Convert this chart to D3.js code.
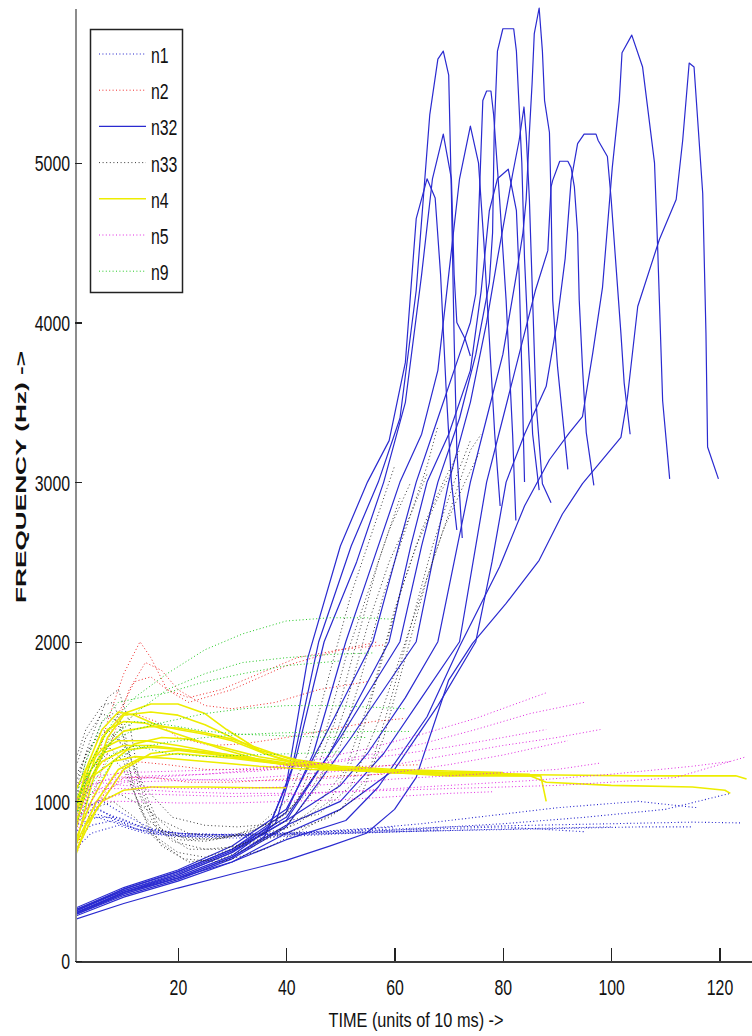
<!DOCTYPE html>
<html>
<head>
<meta charset="utf-8">
<script src="https://cdn.jsdelivr.net/npm/d3@7"></script>
<style>
  body { margin: 0; background: #fff; }
  svg { display: block; font-family: "Liberation Sans", Arial, sans-serif; }
</style>
</head>
<body>
<div id="chart"></div>
<script>
// axis ticks and legend entries
const xTicks = [20, 40, 60, 80, 100, 120];
const yTicks = [0, 1000, 2000, 3000, 4000, 5000];
const legendNames = ["n1", "n2", "n32", "n33", "n4", "n5", "n9"];

// each series is a list of [time, frequency] points
const n1Lines = [
    [[1,900],[5,950],[10,880],[15,820],[20,800],[30,790],[40,800],[50,810],[60,820],[70,830],[80,840],[95,810]],
    [[1,1000],[4,980],[8,900],[12,830],[18,790],[25,780],[35,790],[45,800],[55,810],[65,830],[80,860],[95,900],[110,950],[122,1050]],
    [[1,850],[5,900],[10,850],[15,800],[22,780],[30,780],[40,790],[50,800],[60,810],[75,820],[90,830],[105,840],[115,840]],
    [[1,750],[4,850],[8,880],[13,820],[20,790],[30,790],[40,800],[55,820],[70,840],[85,850],[100,860],[115,870],[124,865]],
    [[1,950],[6,1000],[10,920],[15,830],[20,800],[30,790],[40,790],[50,800],[60,810],[68,820]],
    [[1,700],[4,800],[9,850],[14,800],[20,780],[30,770],[40,780],[52,800],[62,810],[72,820],[85,830],[100,840]],
    [[1,880],[5,920],[10,870],[16,810],[25,790],[35,800],[45,810],[55,830],[65,860],[75,900],[90,960],[105,1000],[116,960]],
    [[1,800],[4,900],[9,900],[14,830],[22,790],[32,790],[42,800],[52,820],[60,840]]
];

const n2Lines = [
    [[1,800],[4,1100],[7,1500],[10,1800],[13,2000],[15,1900],[18,1700],[22,1650],[28,1700],[35,1800],[42,1900],[50,1950],[58,1980]],
    [[1,750],[4,1000],[8,1400],[11,1700],[14,1870],[17,1820],[20,1700],[25,1600],[30,1580],[38,1620],[46,1700],[55,1750]],
    [[1,900],[4,1150],[8,1400],[12,1550],[16,1500],[20,1400],[26,1350],[32,1360],[40,1400],[48,1450],[56,1500],[62,1520]],
    [[1,650],[4,900],[8,1150],[12,1250],[18,1230],[25,1200],[35,1200],[45,1210],[55,1220],[65,1230]],
    [[1,850],[5,1200],[9,1550],[12,1750],[15,1780],[18,1700],[22,1620],[30,1700],[40,1850],[50,1950],[57,2000]],
    [[1,700],[5,1000],[10,1150],[15,1150],[22,1120],[30,1120],[40,1140],[50,1160],[58,1170]]
];

const n32Lines = [
    [[1,290],[10,420],[20,520],[30,650],[36,780],[40,1100],[44,1900],[50,2600],[55,3000],[59,3260],[62,3750],[64,4650],[66,4900],[67.5,4780],[68.5,4300],[69.5,3600],[70.5,3000],[71.5,2700]],
    [[1,320],[10,440],[20,540],[30,680],[37,850],[41,1200],[46,2000],[52,2600],[57,3000],[61,3400],[64,4200],[66.5,5300],[68,5650],[69,5700],[70,5550],[70.5,4800],[71,3900],[71.5,3200],[72.5,2650]],
    [[1,300],[10,430],[20,530],[30,660],[38,860],[42,1300],[47,2000],[53,2500],[58,3000],[62,3500],[65,4300],[67,4900],[69,5180],[70.5,4900],[71,4300],[71.5,4000],[73,3900],[74,3790]],
    [[1,310],[10,450],[20,560],[30,700],[40,930],[45,1300],[51,2000],[56,2500],[61,3000],[65,3300],[68,3700],[70,4300],[72,4900],[74,5230],[75.5,5000],[76.5,4500],[77.5,3900],[78.5,3300],[79.5,2850]],
    [[1,330],[10,460],[20,570],[30,720],[40,950],[47,1400],[56,2000],[60,2500],[64,3000],[68,3400],[72,3800],[74,4000],[75,4180],[75.7,4830],[76.3,5390],[77,5450],[77.8,5450],[78.3,5300],[79.4,4770],[80.6,4140],[81.8,3300],[82.4,2760]],
    [[1,300],[10,430],[20,540],[30,680],[40,880],[48,1300],[59,2000],[63,2600],[66,3000],[70,3300],[74,3700],[76,4200],[77.5,4700],[79,4900],[81,4960],[82.5,4700],[83,4300],[83.5,3700],[84,3000]],
    [[1,320],[10,450],[20,560],[30,700],[40,900],[50,1400],[61,2000],[65,2600],[68,3000],[72,3400],[75,3800],[77.5,4250],[78.1,4560],[78.4,5190],[79,5700],[80,5840],[82,5840],[82.5,5700],[83.5,5000],[84,4400],[84.8,3800],[85.5,3300],[86.7,2950]],
    [[1,290],[10,410],[20,510],[30,640],[40,840],[52,1400],[64,2000],[67,2500],[70,3000],[74,3500],[77,4000],[79,4400],[81.8,4930],[83,5140],[83.9,5350],[84.3,5180],[84.9,4770],[85.5,4140],[86.1,3510],[87.3,2990],[88.9,2870]],
    [[1,310],[10,440],[20,550],[30,690],[40,880],[50,1100],[55,1300],[62,1650],[68,2000],[71,2500],[74,3000],[77,3400],[80,3800],[82.5,4300],[83.7,4560],[84.3,4770],[84.9,5190],[85.4,5500],[85.8,5810],[86.7,5970],[87.3,5700],[87.7,5390],[88.6,5190],[88.9,4770],[89.2,4140],[90.1,3720],[92,3080]],
    [[1,300],[10,420],[20,520],[30,650],[40,850],[50,1000],[58,1300],[65,1650],[72,2000],[75,2600],[77,3000],[80,3400],[83,3800],[86,4200],[88.3,4450],[88.9,4850],[89.2,4890],[90.5,5010],[92,5010],[92.6,4970],[93.2,4850],[93.8,4560],[94.1,4140],[94.7,3720],[95.4,3310],[96.8,2980]],
    [[1,280],[10,400],[20,500],[30,620],[40,800],[50,950],[60,1200],[68,1600],[75,2000],[78,2500],[80.6,3000],[84,3300],[88,3600],[90,4000],[91.5,4400],[92.6,4890],[93.8,5120],[95,5180],[97.2,5180],[97.6,5140],[99.3,5040],[100,4770],[100.9,4350],[101.8,3930],[102.4,3620],[103.5,3300]],
    [[1,300],[10,430],[20,520],[30,620],[40,760],[51,880],[57,1090],[66,1530],[72,1970],[79.4,2470],[84,2850],[88.6,3140],[92.3,3310],[94.7,3410],[96.6,3810],[98.4,4220],[99.6,4720],[100.2,4970],[101.5,5390],[102,5690],[103.8,5800],[105.8,5600],[108,5000],[108.6,4450],[109.5,3510],[110.8,3020]],
    [[1,260],[10,360],[20,457],[30,545],[40,630],[48,720],[54.8,800],[60,950],[64,1150],[70,1760],[74.4,1990],[80.6,2240],[86.7,2510],[91,2800],[94.7,2990],[101.8,3280],[103,3530],[104.9,4100],[108.9,4520],[112,4770],[113.2,5140],[114.4,5625],[115.3,5600],[116.9,4810],[117.5,3930],[117.8,3220],[119.8,3020]]
];

const n33Lines = [
    [[1,1100],[4,1400],[7,1650],[9,1700],[11,1500],[13,1100],[16,850],[20,760],[25,750],[30,780],[35,850],[40,1000],[44,1300],[48,1800],[52,2300],[56,2700],[60,3100]],
    [[1,1000],[3,1250],[6,1500],[8,1550],[10,1400],[12,1050],[15,800],[20,680],[25,650],[30,700],[36,800],[42,1000],[47,1400],[51,1900],[55,2300],[59,2700],[63,3000]],
    [[1,950],[4,1200],[7,1350],[10,1250],[13,950],[17,720],[22,620],[28,640],[34,720],[40,850],[46,1100],[51,1600],[55,2100],[59,2500],[63,2800],[66,3050]],
    [[1,1200],[3,1400],[6,1550],[9,1500],[12,1200],[16,900],[20,780],[26,760],[32,790],[38,880],[44,1050],[50,1350],[54,1800],[58,2300],[62,2700],[66,3100],[68,3350]],
    [[1,900],[5,1000],[9,1050],[13,980],[17,880],[22,800],[28,780],[34,790],[40,830],[45,950],[51,1200],[56,1700],[60,2200],[64,2600],[68,2900],[71,3100]],
    [[1,1050],[3,1300],[6,1450],[9,1400],[12,1100],[16,830],[22,700],[28,700],[35,760],[42,860],[48,1000],[53,1300],[57,1800],[61,2300],[65,2700],[69,3000],[72,3200]],
    [[1,1150],[4,1350],[7,1450],[10,1350],[14,1080],[19,900],[25,850],[31,840],[38,860],[46,920],[52,1100],[57,1500],[61,1900],[65,2300],[69,2700],[73,3000],[75.6,3180]],
    [[1,1000],[4,1200],[7,1300],[10,1200],[14,900],[19,750],[25,700],[32,720],[40,800],[48,900],[54,1050],[58,1400],[62,1900],[66,2400],[70,2800],[74,3200],[76,3300]],
    [[1,850],[4,950],[8,1000],[12,900],[16,760],[21,640],[28,620],[36,700],[44,840],[50,950],[55,1150],[59,1600],[63,2100],[67,2600],[71,3000],[74,3260]],
    [[1,1250],[3,1450],[6,1600],[8,1620],[10,1450],[13,1050],[17,820],[22,760],[28,770],[34,820],[40,920],[45,1150],[49,1500],[53,2000],[57,2500],[61,2900]]
];

const n4Lines = [
    [[1,800],[3,1100],[6,1400],[10,1550],[15,1610],[20,1610],[25,1550],[29,1450],[35,1320],[42,1260],[50,1220],[60,1200],[70,1190],[80,1180]],
    [[1,700],[4,1100],[7,1400],[10,1540],[15,1560],[20,1540],[25,1480],[30,1400],[36,1300],[42,1240],[50,1210],[60,1190],[75,1170]],
    [[1,900],[3,1200],[6,1450],[9,1560],[12,1540],[16,1480],[20,1450],[25,1420],[30,1380],[36,1300],[42,1230],[50,1200],[65,1180]],
    [[1,850],[4,1150],[7,1350],[10,1440],[15,1470],[20,1460],[25,1430],[30,1390],[36,1320],[42,1250],[50,1210],[60,1180],[70,1160],[87,1160],[88,1000]],
    [[1,750],[4,1000],[8,1250],[12,1360],[17,1400],[22,1390],[28,1340],[35,1280],[42,1240],[50,1200],[60,1180],[75,1170],[90,1165],[105,1160],[115,1160],[123,1160],[125,1140]],
    [[1,680],[5,950],[10,1200],[15,1300],[20,1320],[30,1280],[40,1230],[50,1200],[60,1180],[70,1170],[85,1160],[88,1120],[100,1100],[115,1090],[121,1070],[122,1050]],
    [[1,950],[3,1150],[6,1300],[10,1350],[15,1350],[20,1330],[30,1290],[40,1240],[50,1200],[60,1180]],
    [[1,1000],[4,1150],[8,1250],[12,1280],[18,1270],[25,1250],[35,1220],[45,1200],[55,1190],[65,1175],[78,1170]],
    [[1,650],[3,850],[6,1000],[10,1070],[15,1090],[25,1090],[35,1085],[40,1085]],
    [[1,900],[3,1100],[6,1250],[10,1320],[15,1340],[22,1320],[30,1280],[40,1230],[50,1200],[58,1190]],
    [[1,720],[5,1000],[9,1200],[13,1270],[20,1300],[30,1270],[40,1230],[55,1200],[70,1180],[85,1170]],
    [[1,980],[4,1250],[7,1450],[10,1500],[14,1490],[20,1420],[28,1330],[36,1250],[46,1210],[60,1190]],
    [[1,1060],[3,1200],[6,1330],[9,1380],[14,1380],[20,1350],[28,1300],[38,1240],[50,1200],[70,1180],[80,1175]]
];

const n5Lines = [
    [[1,900],[4,1050],[8,1120],[15,1150],[25,1170],[35,1200],[45,1260],[55,1330],[65,1420],[75,1520],[88,1680]],
    [[1,1000],[4,1100],[8,1150],[15,1160],[25,1170],[35,1190],[45,1230],[55,1290],[65,1360],[75,1450],[85,1550],[95,1620]],
    [[1,850],[5,1050],[10,1120],[20,1130],[30,1140],[40,1160],[50,1190],[60,1230],[70,1290],[80,1350],[90,1400],[98,1450]],
    [[1,1050],[5,1120],[10,1100],[20,1080],[30,1080],[40,1090],[50,1110],[60,1140],[70,1160],[80,1180],[90,1200],[98,1240]],
    [[1,950],[5,1080],[10,1080],[20,1060],[30,1050],[40,1050],[50,1060],[60,1070],[70,1080],[80,1090],[90,1100],[100,1120],[112,1150],[125,1280]],
    [[1,800],[5,1000],[10,1050],[20,1040],[30,1030],[40,1040],[50,1060],[60,1080],[70,1100],[85,1130],[100,1170],[115,1220],[122,1250]],
    [[1,1100],[4,1150],[10,1180],[20,1190],[30,1200],[40,1220],[50,1250],[60,1290],[70,1340],[80,1400],[88,1450]],
    [[1,900],[5,1000],[10,1000],[20,990],[30,990],[40,1000],[50,1010],[60,1030],[70,1050],[78,1060]],
    [[1,1000],[6,1130],[12,1150],[20,1140],[30,1130],[40,1130],[50,1150],[60,1180],[70,1230],[80,1290],[92,1380]]
];

const n9Lines = [
    [[1,950],[4,1250],[8,1500],[12,1650],[18,1800],[25,1950],[32,2050],[40,2130],[48,2150],[55,2150],[60,2140]],
    [[1,900],[4,1150],[8,1400],[12,1550],[18,1700],[25,1800],[32,1870],[40,1900],[48,1920],[56,1930]],
    [[1,1000],[4,1200],[8,1380],[12,1450],[18,1500],[25,1550],[32,1580],[40,1600],[48,1600],[56,1590],[62,1580]],
    [[1,850],[4,1050],[8,1250],[12,1330],[18,1370],[25,1400],[32,1420],[40,1430],[48,1435],[56,1438],[63,1438]],
    [[1,950],[4,1200],[8,1420],[12,1500],[18,1480],[25,1440],[32,1420],[40,1410],[48,1400],[55,1400]],
    [[1,1000],[3,1250],[6,1500],[9,1620],[13,1650],[18,1680],[25,1750],[32,1800],[40,1850],[50,1880]],
    [[1,900],[4,1100],[8,1300],[12,1350],[18,1300],[25,1280],[33,1290],[42,1300],[50,1310]]
];

const groups = {
    n1: n1Lines, n2: n2Lines, n32: n32Lines, n33: n33Lines,
    n4: n4Lines, n5: n5Lines, n9: n9Lines
};

// how each group is drawn (matlab style line specs)
const lineStyle = {
    n1:  { color: "#2222cc", dash: "1,2.4", width: 1.1 },
    n2:  { color: "#f02a2a", dash: "1,2.4", width: 1 },
    n32: { color: "#2a2ad0", dash: null,    width: 1.2 },
    n33: { color: "#222222", dash: "1,2.6", width: 0.9 },
    n4:  { color: "#eded00", dash: null,    width: 1.6 },
    n5:  { color: "#e026e0", dash: "1,2.4", width: 1 },
    n9:  { color: "#22c822", dash: "1,2.4", width: 1 }
};

const W = 752, H = 1036;
const plot = { left: 75, right: 752, top: 8, bottom: 961 };
const squeeze = 0.72;   // the original picture is squashed sideways

const svg = d3.select("#chart").append("svg")
    .attr("width", W)
    .attr("height", H);

const x = d3.scaleLinear().domain([1, 126]).range([plot.left, plot.right]);
const y = d3.scaleLinear().domain([0, 5970]).range([plot.bottom, plot.top]);

svg.append("clipPath").attr("id", "plotClip")
    .append("rect")
    .attr("x", plot.left)
    .attr("y", 0)
    .attr("width", plot.right - plot.left)
    .attr("height", plot.bottom);

const line = d3.line()
    .x(d => x(d[0]))
    .y(d => y(d[1]));

const lineLayer = svg.append("g").attr("clip-path", "url(#plotClip)");

legendNames.forEach(name => {
    let st = lineStyle[name];
    lineLayer.append("g")
        .attr("class", "group-" + name)
        .selectAll("path")
        .data(groups[name])
        .enter().append("path")
        .attr("d", line)
        .attr("fill", "none")
        .attr("stroke", st.color)
        .attr("stroke-width", st.width)
        .attr("stroke-dasharray", st.dash)
        .attr("stroke-linejoin", "round");
});

// x axis
const xAxis = svg.append("g")
    .attr("transform", "translate(0," + plot.bottom + ")")
    .call(d3.axisBottom(x).tickValues(xTicks).tickSize(-13).tickSizeOuter(0));

xAxis.select(".domain").attr("stroke", "#3a3a3a").attr("stroke-width", 2);
xAxis.selectAll(".tick line").attr("stroke", "#222").attr("stroke-width", 1.2);
xAxis.selectAll(".tick text")
    .attr("y", 34)
    .attr("dy", null)
    .attr("transform", "scale(" + squeeze + ",1)")
    .attr("font-size", 22)
    .attr("fill", "#111");

// y axis
const yAxis = svg.append("g")
    .attr("transform", "translate(" + plot.left + ",0)")
    .call(d3.axisLeft(y).tickValues(yTicks).tickFormat(d3.format("d")).tickSize(-7).tickSizeOuter(0));

yAxis.select(".domain").attr("stroke", "#8c8c8c").attr("stroke-width", 2);
yAxis.selectAll(".tick line").attr("stroke", "#222").attr("stroke-width", 1.2);
yAxis.selectAll(".tick text")
    .attr("x", -5 / squeeze)
    .attr("dy", "0.36em")
    .attr("transform", "scale(" + squeeze + ",1)")
    .attr("font-size", 22)
    .attr("fill", "#111");

svg.selectAll(".domain, .tick line").attr("shape-rendering", "crispEdges");

// axis titles
svg.append("text")
    .attr("x", 416)
    .attr("y", 1027)
    .attr("text-anchor", "middle")
    .attr("font-size", 21)
    .attr("textLength", 175)
    .attr("lengthAdjust", "spacingAndGlyphs")
    .attr("fill", "#111")
    .text("TIME (units of 10 ms) ->");

svg.append("text")
    .attr("transform", "translate(25.5,477) rotate(-90)")
    .attr("text-anchor", "middle")
    .attr("font-size", 15)
    .attr("font-weight", "bold")
    .attr("textLength", 252)
    .attr("lengthAdjust", "spacingAndGlyphs")
    .attr("fill", "#111")
    .text("FREQUENCY (Hz) ->");

// legend
const legend = svg.append("g").attr("class", "legend");

legend.append("rect")
    .attr("x", 90.5)
    .attr("y", 29.5)
    .attr("width", 92)
    .attr("height", 263)
    .attr("fill", "#fff")
    .attr("stroke", "#222")
    .attr("stroke-width", 1.5);

const rows = legend.selectAll(".legend-row")
    .data(legendNames)
    .enter().append("g")
    .attr("class", "legend-row")
    .attr("transform", (d, i) => "translate(0," + (55 + i * 36.2) + ")");

rows.append("line")
    .attr("x1", 99)
    .attr("x2", 146)
    .attr("y1", -1)
    .attr("y2", -1)
    .attr("stroke", d => lineStyle[d].color)
    .attr("stroke-width", d => lineStyle[d].width)
    .attr("stroke-dasharray", d => lineStyle[d].dash);

rows.append("text")
    .attr("transform", "translate(151,0) scale(" + squeeze + ",1)")
    .attr("dy", "0.36em")
    .attr("font-size", 22)
    .attr("fill", "#111")
    .text(d => d);
</script>
</body>
</html>
